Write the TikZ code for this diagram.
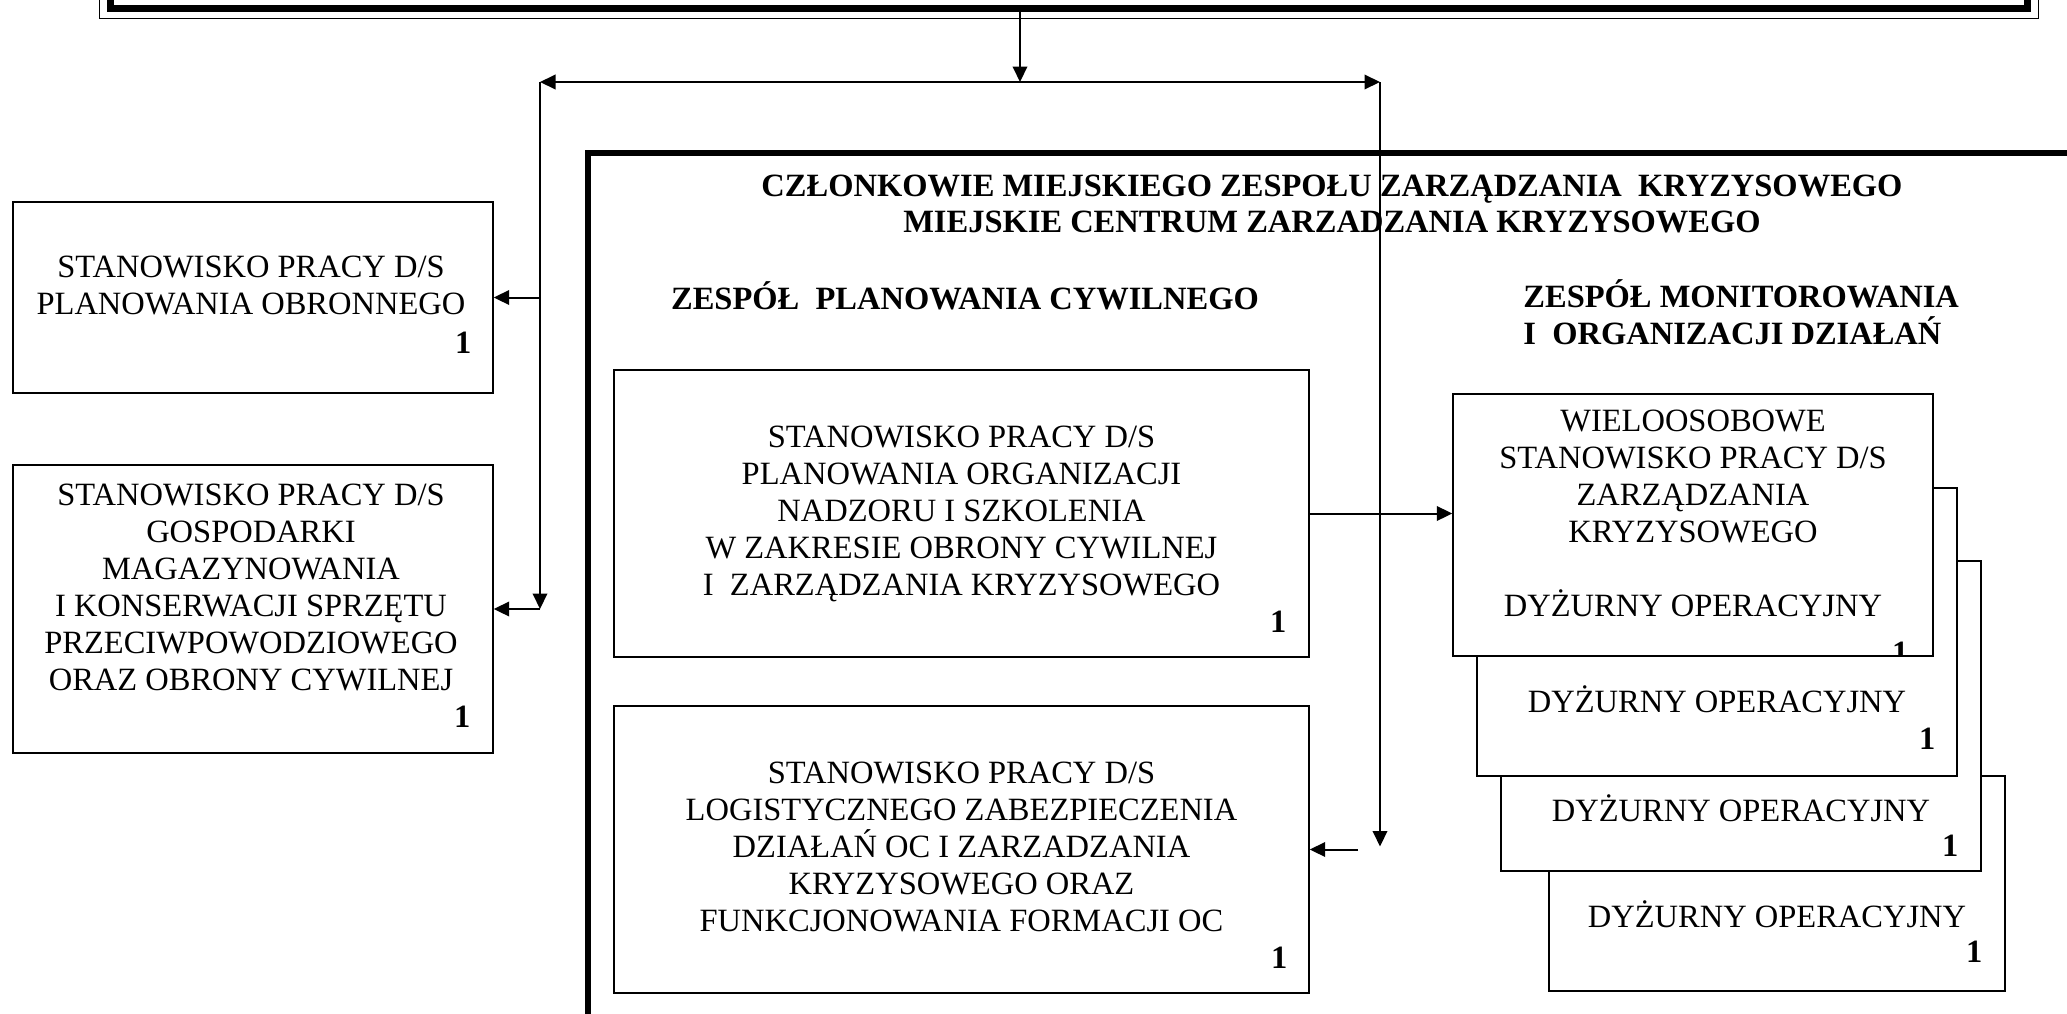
\documentclass[tikz,border=0pt]{standalone}
\usepackage{fontspec}
\setmainfont{Liberation Serif}
\usetikzlibrary{arrows.meta}

\begin{document}
\begin{tikzpicture}[
        x=0.5pt, y=-0.5pt, >={Triangle[length=7.75pt,width=7.25pt]},
        pole/.style={draw, line width=0.7pt, fill=white, inner sep=0pt},
        napis/.style={align=center, inner sep=0pt,
                      font=\fontsize{16.25pt}{18.5pt}\selectfont},
        tytul/.style={align=center, inner sep=0pt,
                      font=\bfseries\fontsize{16.25pt}{18pt}\selectfont},
        liczba/.style={inner sep=0pt, anchor=base east,
                       font=\bfseries\fontsize{16.25pt}{18.5pt}\selectfont},
        linia/.style={line width=1pt},
    ]
    \useasboundingbox (0,0) rectangle (2067,1013);
    \clip (0,0) rectangle (2067,1013);

    \node[draw, line width=3.5pt, minimum width=958.5pt, minimum height=60pt] (wydz) at (1068.5,-52) {};
    \draw[line width=0.6pt] ([shift={(-3.5pt,-3.5pt)}]wydz.south west) rectangle ([shift={(4pt,0pt)}]wydz.north east);

    \node[draw, line width=3pt, minimum width=812pt, minimum height=547pt] (mzzk) at (1400,700) {};
    \node[tytul] (mzzk-t) at (1332,204) {CZŁONKOWIE MIEJSKIEGO ZESPOŁU ZARZĄDZANIA\ \ KRYZYSOWEGO\\MIEJSKIE CENTRUM ZARZADZANIA KRYZYSOWEGO};
    \node[tytul, anchor=base] (zpc) at (965,309) {ZESPÓŁ\ \ PLANOWANIA CYWILNEGO};
    \node[tytul, align=left, anchor=west, font=\bfseries\fontsize{16.25pt}{18.5pt}\selectfont] (zmo) at (1523,312) {ZESPÓŁ MONITOROWANIA\\I\ \ ORGANIZACJI DZIAŁAŃ};

    \node[pole, minimum width=240pt, minimum height=95.5pt] (obr) at (253,297.5) {};
    \node[napis] (obr-t) at (251,285) {STANOWISKO PRACY D/S\\PLANOWANIA OBRONNEGO};
    \node[liczba] (obr-1) at ([xshift=-11pt,yshift=20pt]obr.south east) {1};

    \node[pole, minimum width=240pt, minimum height=144pt] (gosp) at (253,609) {};
    \node[napis] (gosp-t) at (251,587.5) {STANOWISKO PRACY D/S\\GOSPODARKI\\MAGAZYNOWANIA\\I KONSERWACJI SPRZĘTU\\PRZECIWPOWODZIOWEGO\\ORAZ OBRONY CYWILNEJ};
    \node[liczba] (gosp-1) at ([xshift=-11.5pt,yshift=13pt]gosp.south east) {1};

    \node[pole, minimum width=347.5pt, minimum height=143.5pt] (plan) at (961.5,513.5) {};
    \node[napis] (plan-t) at (961.5,514) {STANOWISKO PRACY D/S\\PLANOWANIA ORGANIZACJI\\NADZORU I SZKOLENIA\\W ZAKRESIE OBRONY CYWILNEJ\\I\ \ ZARZĄDZANIA KRYZYSOWEGO};
    \node[liczba] (plan-1) at ([xshift=-11.5pt,yshift=12.5pt]plan.south east) {1};

    \node[pole, minimum width=347.5pt, minimum height=143.5pt] (log) at (961.5,849.5) {};
    \node[napis] (log-t) at (961.5,847) {STANOWISKO PRACY D/S\\LOGISTYCZNEGO ZABEZPIECZENIA\\DZIAŁAŃ OC I ZARZADZANIA\\KRYZYSOWEGO ORAZ\\FUNKCJONOWANIA FORMACJI OC};
    \node[liczba] (log-1) at ([xshift=-11pt,yshift=12.5pt]log.south east) {1};

    \node[pole, minimum width=228pt, minimum height=107.5pt] (dyz3) at (1777,883.5) {};
    \node[napis, anchor=base] (dyz3-t) at (1777,927) {DYŻURNY OPERACYJNY};
    \node[liczba] (dyz3-1) at ([xshift=-11.5pt,yshift=14.5pt]dyz3.south east) {1};

    \node[pole, minimum width=240pt, minimum height=155pt] (dyz2) at (1741,716) {};
    \node[napis, anchor=base] (dyz2-t) at (1741,821) {DYŻURNY OPERACYJNY};
    \node[liczba] (dyz2-1) at ([xshift=-11.5pt,yshift=7.5pt]dyz2.south east) {1};

    \node[pole, minimum width=240pt, minimum height=144pt] (dyz1) at (1717,632) {};
    \node[napis, anchor=base] (dyz1-t) at (1717,712) {DYŻURNY OPERACYJNY};
    \node[liczba] (dyz1-1) at ([xshift=-11pt,yshift=13.5pt]dyz1.south east) {1};

    \node[pole, minimum width=240pt, minimum height=131pt] (wiel) at (1693,525) {};
    \node[napis] (wiel-t) at (1693,513.5) {WIELOOSOBOWE\\STANOWISKO PRACY D/S\\ZARZĄDZANIA\\KRYZYSOWEGO\\[18.5pt]DYŻURNY OPERACYJNY};
    \begin{scope}
        \clip (wiel.south west) rectangle (wiel.north east);
        \node[liczba] (wiel-1) at ([xshift=-12.5pt,yshift=-3.5pt]wiel.south east) {1};
    \end{scope}

    \coordinate (hub) at (1020,82);
    \coordinate (lewy) at (540,82);
    \coordinate (prawy) at (1380,82);
    \draw[linia,->] (wydz.south -| hub) -- (hub);
    \draw[linia,->] (hub) -- (lewy);
    \draw[linia,->] (hub) -- (prawy);
    \draw[linia,->] (lewy) -- (lewy |- gosp.east);
    \draw[linia,->] (lewy |- obr.east) -- (obr.east);
    \draw[linia,->] (lewy |- gosp.east) -- (gosp.east);
    \draw[linia,->] (prawy) -- ([yshift=1.5pt]prawy |- log.east);
    \draw[linia,->] ([xshift=-11pt]prawy |- log.east) -- (log.east);
    \draw[linia,->] (plan.east) -- (plan.east -| wiel.west);
\end{tikzpicture}
\end{document}
